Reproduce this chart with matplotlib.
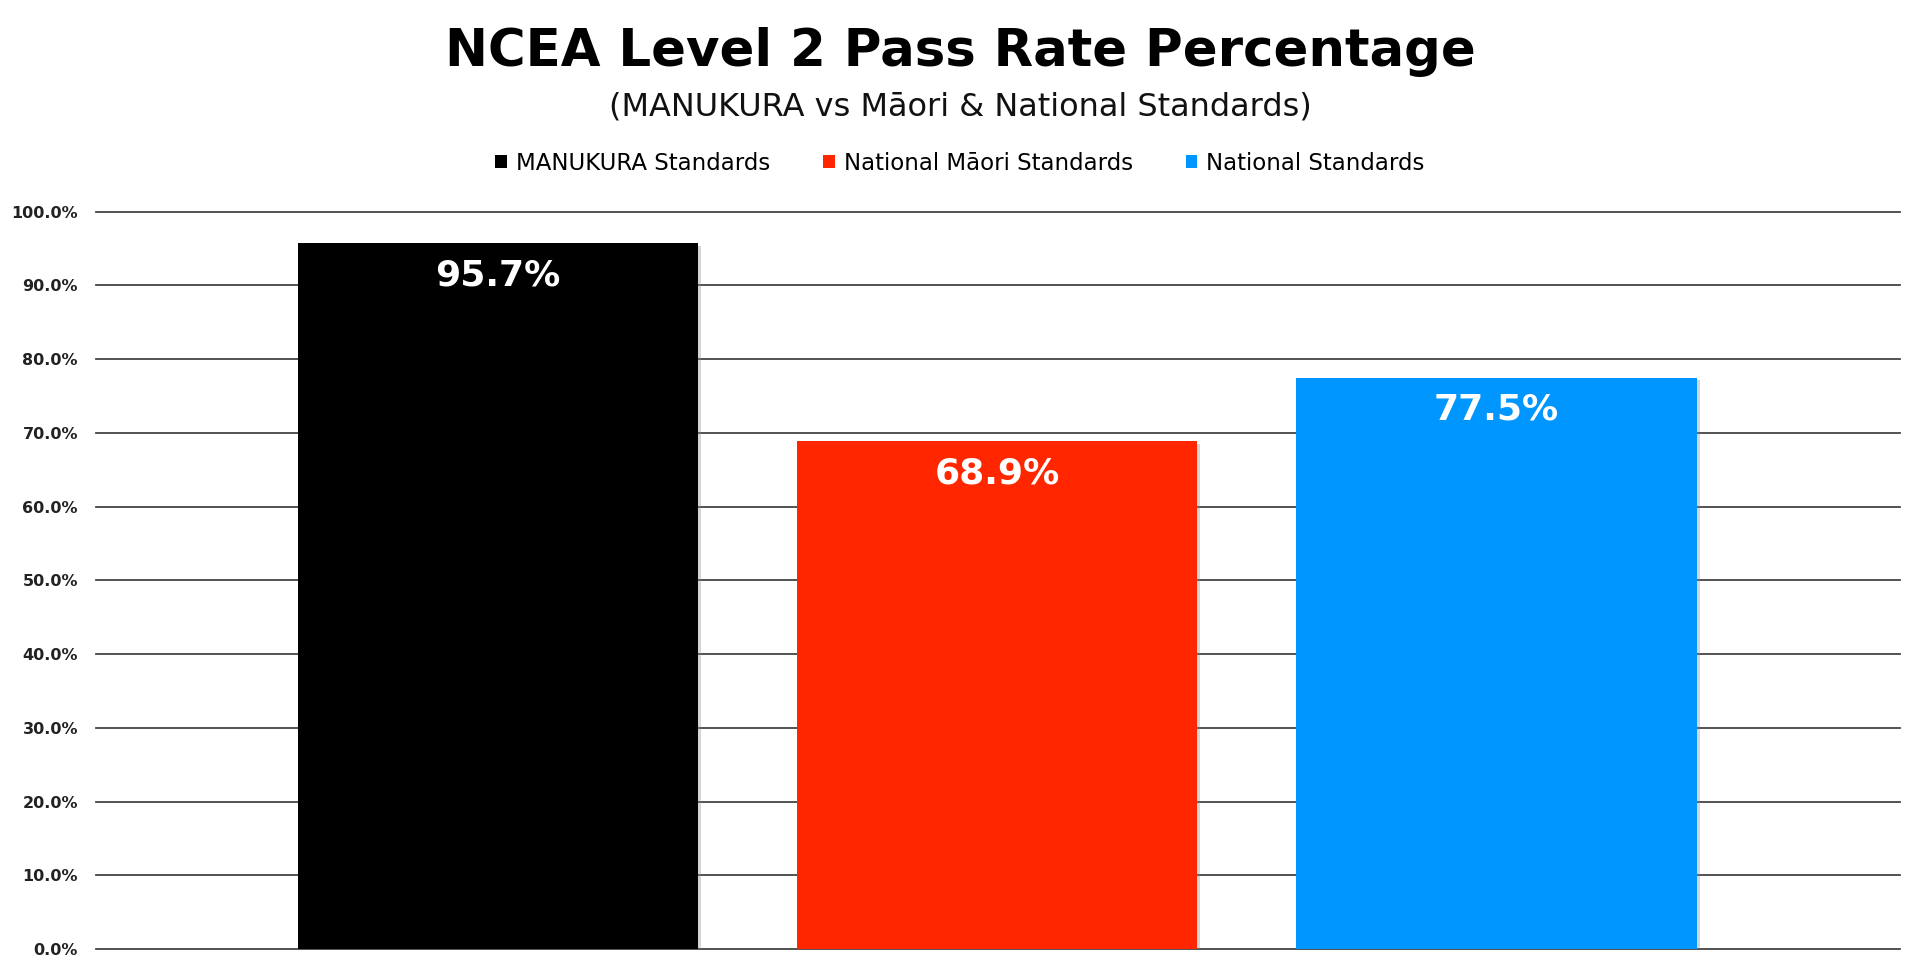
import matplotlib
matplotlib.use("Agg")
import matplotlib.pyplot as plt
import matplotlib.patheffects as pe
from matplotlib.patches import Patch

# data
series = ["MANUKURA Standards", "National Māori Standards", "National Standards"]
values = [95.7, 68.9, 77.5]
colors = ["#000000", "#FF2600", "#0096FF"]
yticks = [0, 10, 20, 30, 40, 50, 60, 70, 80, 90, 100]

plt.rcParams['font.family'] = ['DejaVu Sans']

fig = plt.figure(figsize=(19.2, 9.72), dpi=100)
ax = fig.add_axes([0.05, 0.0234, 0.9396, 0.7588])

xs = list(range(len(values)))
bars = ax.bar(xs, values, width=0.802, color=colors, zorder=3)
for b in bars:
    b.set_path_effects([pe.SimplePatchShadow(offset=(2, -2), shadow_rgbFace='#888888', alpha=0.35), pe.Normal()])

# value labels inside top of bars
for x, v in zip(xs, values):
    ax.annotate(f"{v:.1f}%", xy=(x, v), xytext=(0, -23), textcoords="offset points",
                ha="center", va="center", color="white", fontsize=26, fontweight="bold", zorder=4)

ax.set_xlim(-0.805, 2.808)
ax.set_ylim(0, 100)
ax.set_yticks(yticks)
ax.set_yticklabels([f"{t:.1f}%" for t in yticks], fontsize=11.5, fontweight="bold", color="#222222")
ax.set_xticks([])
ax.tick_params(axis="y", length=0, pad=13)
ax.grid(axis="y", color="#444444", linewidth=1.3, zorder=0)
for gl in ax.get_ygridlines():
    gl.set_clip_on(False)
for s in ax.spines.values():
    s.set_visible(False)

fig.text(0.5, 0.947, "NCEA Level 2 Pass Rate Percentage", ha="center", va="center",
         fontsize=37, fontweight="bold", color="black")
fig.text(0.5, 0.89, "(MANUKURA vs Māori & National Standards)", ha="center", va="center",
         fontsize=23, color="#111111")

handles = [Patch(facecolor=c, edgecolor="none") for c in colors]
fig.legend(handles, series, loc="center", bbox_to_anchor=(0.5, 0.832), ncol=3, frameon=False,
           fontsize=16.5, handlelength=0.5, handleheight=0.5, handletextpad=0.4, columnspacing=2.3)

fig.savefig("out.png", dpi=100)
